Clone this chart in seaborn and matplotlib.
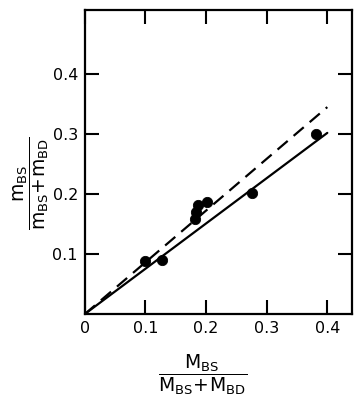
import numpy as np
import pandas as pd
import matplotlib
matplotlib.use("Agg")
import matplotlib.pyplot as plt
import seaborn as sns

# measured points
ratio_M = [0.100, 0.128, 0.181, 0.184, 0.186, 0.201, 0.275, 0.382]
ratio_m = [0.089, 0.090, 0.158, 0.170, 0.182, 0.186, 0.201, 0.300]

# fitted / reference lines (end points)
line_x = [0.0, 0.40]
solid_y = [0.0, 0.302]
dashed_y = [0.0, 0.345]

x_ticks = [0, 0.1, 0.2, 0.3, 0.4]
x_ticklabels = ["0", "0.1", "0.2", "0.3", "0.4"]
y_ticks = [0.1, 0.2, 0.3, 0.4]
y_ticklabels = ["0.1", "0.2", "0.3", "0.4"]

sns.set_style("ticks", {'axes.edgecolor': 'black', 'xtick.color': 'black',
                        'ytick.color': 'black', 'text.color': 'black',
                        'axes.labelcolor': 'black'})
plt.rcParams['font.family'] = ['DejaVu Sans']
plt.rcParams['mathtext.fontset'] = 'dejavusans'

fig = plt.figure(figsize=(3.55, 3.98), dpi=100)
ax = fig.add_axes([0.239, 0.211, 0.753, 0.764])

pts = pd.DataFrame({'M': ratio_M, 'm': ratio_m})
lines = pd.DataFrame({'x': line_x, 'solid': solid_y, 'dashed': dashed_y})

sns.lineplot(data=lines, x='x', y='solid', ax=ax, color='black', lw=1.6)
sns.lineplot(data=lines, x='x', y='dashed', ax=ax, color='black', lw=1.6,
             linestyle=(0, (6, 3.5)))
sns.scatterplot(data=pts, x='M', y='m', ax=ax, color='black', s=55,
                edgecolor='black', zorder=5)

ax.set_xlim(0, 0.441)
ax.set_ylim(0, 0.507)
ax.set_xticks(x_ticks)
ax.set_xticklabels(x_ticklabels)
ax.set_yticks(y_ticks)
ax.set_yticklabels(y_ticklabels)
ax.tick_params(direction='in', length=10, width=1.5, labelsize=11.5,
               top=True, right=True, pad=5, colors='black')
for sp in ax.spines.values():
    sp.set_linewidth(1.6)
    sp.set_color('black')
    sp.set_visible(True)

ax.set_xlabel(r'$\dfrac{\mathsf{M_{BS}}}{\mathsf{M_{BS}\!+\!M_{BD}}}$', fontsize=13.5, va='center')
ax.xaxis.set_label_coords(0.44, -0.2)
ax.set_ylabel(r'$\dfrac{\mathsf{m_{BS}}}{\mathsf{m_{BS}\!+\!m_{BD}}}$', fontsize=13.5, va='center')
ax.yaxis.set_label_coords(-0.2, 0.43)

fig.savefig("out.png", dpi=100)
